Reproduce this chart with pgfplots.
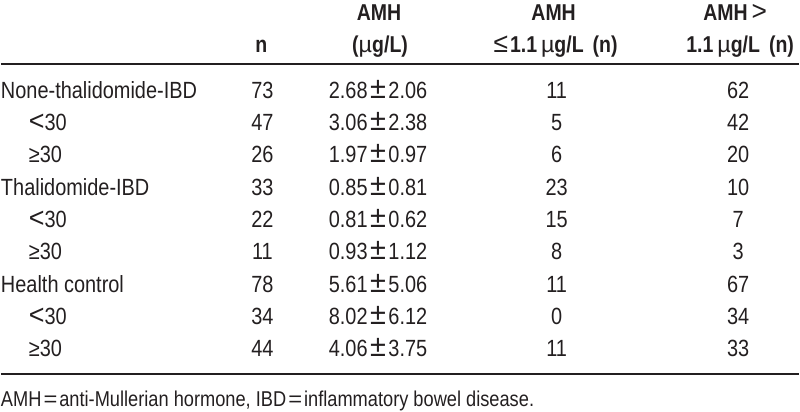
\documentclass[border=0pt]{standalone}
\usepackage{fontspec}
\setmainfont{Liberation Sans}[FakeStretch=0.85]
\usepackage{graphicx}
\usepackage{pgfplots}
\pgfplotsset{compat=1.18}
\definecolor{ink}{HTML}{231F20}
\newcommand{\pmx}{\kern2.5pt\scalebox{1.45}[1.3]{±}\kern2.5pt}
\newcommand{\mux}{{\mdseries\scalebox{1.2}[1]{µ}}}
\newcommand{\lex}{{\mdseries\scalebox{1.35}[1.2]{≤}}\kern2pt}
\newcommand{\gtx}{{\mdseries\scalebox{1.35}[1.2]{>}}}
\newcommand{\ltx}{\scalebox{1.35}[1.2]{<}}
\newcommand{\eqx}{\kern2pt\scalebox{1.3}[1]{=}\kern2pt}
\pgfplotsset{
  tabtext/.style={draw=none, mark=none, point meta=explicit symbolic, nodes near coords,
    every node near coord/.style={anchor=#1, inner sep=0pt, outer sep=0pt, text=ink,
      font=\fontsize{23.5}{28}\selectfont}},
  tabhead/.style={draw=none, mark=none, point meta=explicit symbolic, nodes near coords,
    every node near coord/.style={anchor=#1, inner sep=0pt, outer sep=0pt, text=ink,
      font=\fontsize{23}{28}\selectfont\bfseries}},
  tabnote/.style={draw=none, mark=none, point meta=explicit symbolic, nodes near coords,
    every node near coord/.style={anchor=#1, inner sep=0pt, outer sep=0pt, text=ink,
      font=\fontsize{21.5}{26}\selectfont}},
}
\begin{document}
\begin{tikzpicture}
\begin{axis}[width=800pt, height=413pt, scale only axis,
  xmin=0, xmax=800, ymin=0, ymax=413, y dir=reverse,
  hide axis, clip=false]
% frame (invisible) to fix the bounding box
\addplot[draw=none, mark=none] coordinates {(0,0) (800,413)};
% header
\addplot[tabhead=base] coordinates {
  (261,53) [n]
  (379,20.5) [AMH]
  (380,53) [{(\mux g/L)}]
  (554,20.5) [AMH]
  (556,53) [{\lex 1.1\,\mux g/L\hspace{9pt}(n)}]
  (736,20.5) [{AMH\,\gtx}]
  (741,53) [{1.1\,\mux g/L\hspace{9pt}(n)}]
};
% rules
\addplot[ink, line width=2pt, mark=none] coordinates {(0,64.5) (800,64.5)};
\addplot[ink, line width=2pt, mark=none] coordinates {(0,375) (800,375)};
% row labels
\addplot[tabtext=base west] coordinates {
  (0,98.5) [None-thalidomide-IBD]
  (28,130.9) [\ltx30]
  (28,163.3) [≥30]
  (0,195.7) [Thalidomide-IBD]
  (28,228.1) [\ltx30]
  (28,260.5) [≥30]
  (0,292.9) [{Health control}]
  (28,325.3) [\ltx30]
  (28,357.7) [≥30]
};
% n
\addplot[tabtext=base] coordinates {
  (262,98.5) [73] (262,130.9) [47] (262,163.3) [26]
  (262,195.7) [33] (262,228.1) [22] (262,260.5) [11]
  (262,292.9) [78] (262,325.3) [34] (262,357.7) [44]
};
% AMH mean +- sd
\addplot[tabtext=base] coordinates {
  (378,98.5) [2.68\pmx2.06] (378,130.9) [3.06\pmx2.38] (378,163.3) [1.97\pmx0.97]
  (378,195.7) [0.85\pmx0.81] (378,228.1) [0.81\pmx0.62] (378,260.5) [0.93\pmx1.12]
  (378,292.9) [5.61\pmx5.06] (378,325.3) [8.02\pmx6.12] (378,357.7) [4.06\pmx3.75]
};
% AMH <= 1.1
\addplot[tabtext=base] coordinates {
  (557,98.5) [11] (557,130.9) [5] (557,163.3) [6]
  (557,195.7) [23] (557,228.1) [15] (557,260.5) [8]
  (557,292.9) [11] (557,325.3) [0] (557,357.7) [11]
};
% AMH > 1.1
\addplot[tabtext=base] coordinates {
  (739,98.5) [62] (739,130.9) [42] (739,163.3) [20]
  (739,195.7) [10] (739,228.1) [7] (739,260.5) [3]
  (739,292.9) [67] (739,325.3) [34] (739,357.7) [33]
};
% footnote
\addplot[tabnote=base west] coordinates {
  (0,407.5) [{AMH\eqx anti-Mullerian hormone, IBD\eqx inflammatory bowel disease.}]
};
\end{axis}
\end{tikzpicture}
\end{document}
